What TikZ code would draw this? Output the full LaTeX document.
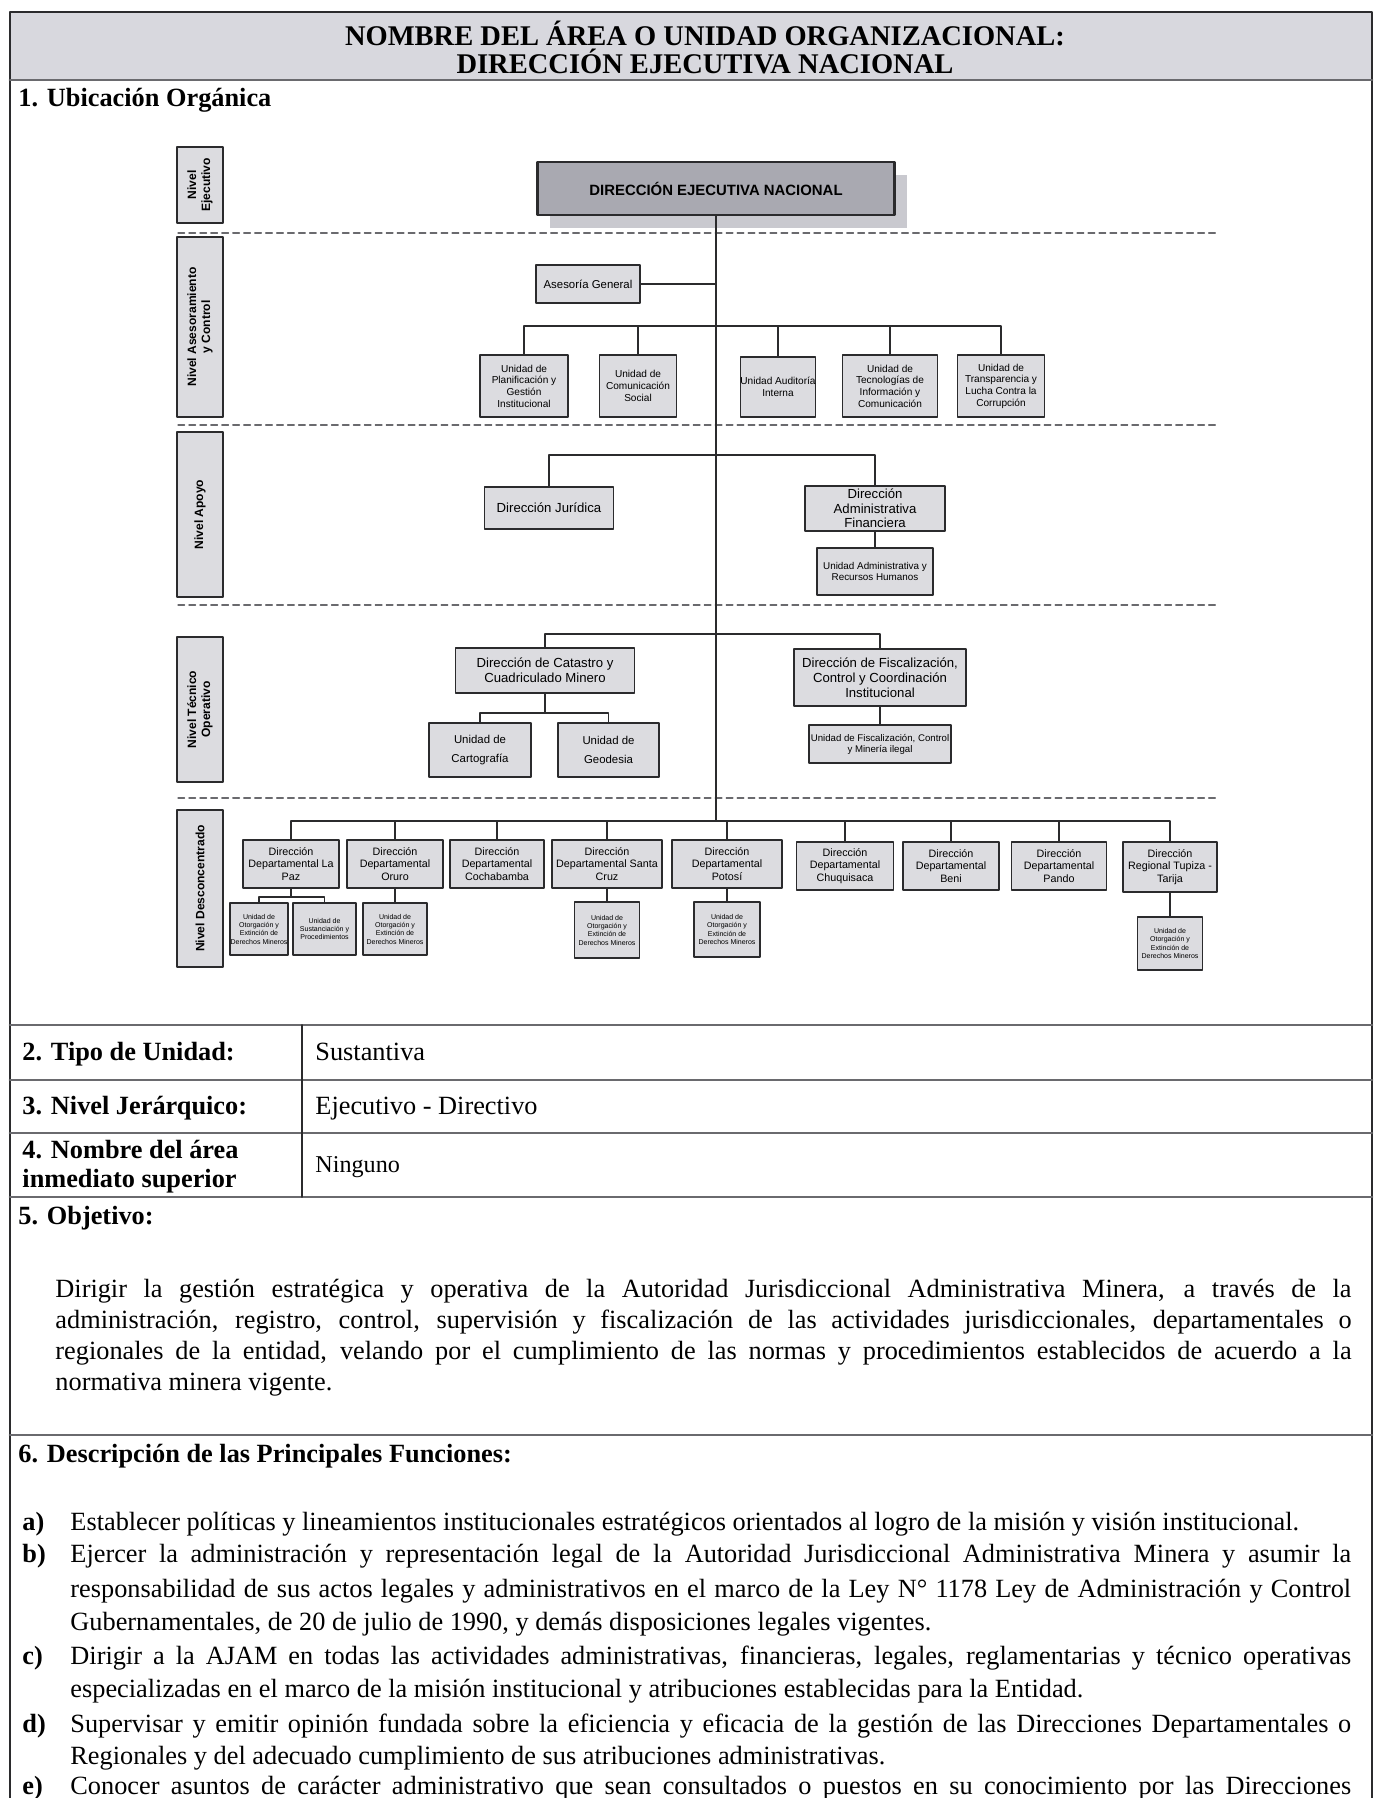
\documentclass[tikz,border=0pt]{standalone}
\usepackage{fontspec}
\setmainfont{Liberation Serif}
\newfontfamily\chartfont{Liberation Sans}
\usetikzlibrary{shadows}
\definecolor{bandgray}{HTML}{D8D8DE}
\definecolor{boxgray}{HTML}{DCDCE0}
\definecolor{dengray}{HTML}{A9A9B1}
\definecolor{shadowgray}{HTML}{C9C9CF}
\definecolor{rulegray}{HTML}{6A6A6E}
\definecolor{inkgray}{HTML}{2B2B2D}
\def\pxu{0.456pt}
\newdimen\parw \parw=591pt
\newdimen\itemw \itemw=584pt

\begin{document}
\begin{tikzpicture}[x=0.456pt, y=-0.456pt, line join=round, line cap=round,
  box/.style={draw=inkgray, fill=boxgray, line width=0.7pt, align=center, inner sep=0pt,
    font=\chartfont\fontsize{4.6}{5.3}\selectfont},
  apobox/.style={box, font=\chartfont\fontsize{6}{6.7}\selectfont},
  tecbox/.style={box, font=\chartfont\fontsize{6}{6.8}\selectfont},
  dept/.style={box, font=\chartfont\fontsize{4.9}{5.7}\selectfont},
  subu/.style={box, line width=0.6pt, font=\chartfont\fontsize{3.2}{3.8}\selectfont},
  lvl/.style={box, rotate=90, font=\chartfont\bfseries\fontsize{5.5}{6.4}\selectfont},
  wh/.style 2 args={minimum width=#1*\pxu, minimum height=#2*\pxu},
  link/.style={draw=inkgray, line width=0.9pt},
  level/.style={draw=rulegray, line width=0.6pt, dash pattern=on 3pt off 2pt},
  rule/.style={draw=rulegray, line width=1.3pt},
  txt/.style={inner sep=0pt, anchor=base west, font=\fontsize{12}{14}\selectfont},
  hd/.style={inner sep=0pt, anchor=base west, font=\bfseries\fontsize{12}{14}\selectfont}]
\useasboundingbox (0,0) rectangle (1380,1798);

% page frame and title band
\fill[bandgray] (10,12) rectangle (1372,80);
\draw[draw=inkgray, line width=0.7pt] (10,1798) -- (10,12) -- (1372,12) -- (1372,1798);
\draw[rule] (10,80) -- (1372,80);
\node[font=\bfseries\fontsize{13}{15}\selectfont] (title1) at (705,33) {NOMBRE DEL ÁREA O UNIDAD ORGANIZACIONAL:};
\node[font=\bfseries\fontsize{13}{15}\selectfont] (title2) at (705,61) {DIRECCIÓN EJECUTIVA NACIONAL};
\node[hd] (sec1) at (18,107) {1. Ubicación Orgánica};

% levels
\node[lvl, wh={76}{46}] (eje) at (200,185) {Nivel\\Ejecutivo};
\node[lvl, wh={180}{46}] (ase) at (200,327) {Nivel Asesoramiento\\y Control};
\node[lvl, wh={165}{46}] (apo) at (200,514.5) {Nivel Apoyo};
\node[lvl, wh={145}{46}] (tec) at (200,709.5) {Nivel Técnico\\Operativo};
\node[lvl, wh={157}{46}] (des) at (200,888.5) {Nivel Desconcentrado};
\foreach \y in {233,425,605,798} \draw[level] (178,\y) -- (1216,\y);

% executive
\node[box, wh={357}{53}, fill=dengray, line width=1.3pt,
  font=\chartfont\bfseries\fontsize{6.8}{8}\selectfont,
  drop shadow={shadow xshift=5.5pt, shadow yshift=-6pt, fill=shadowgray, opacity=1}]
  (den) at (716,188.5) {DIRECCIÓN EJECUTIVA NACIONAL};
\coordinate (asebus) at (716,326);
\coordinate (apobus) at (716,455);
\coordinate (tecbus) at (716,634);
\coordinate (desbus) at (716,821);

% asesoramiento y control
\node[box, wh={104}{38}, font=\chartfont\fontsize{5.2}{6}\selectfont] (ag) at (588,284) {Asesoría General};
\node[box, wh={88}{62}] (plan) at (524,386) {Unidad de\\Planificación y\\Gestión\\Institucional};
\node[box, wh={77}{62}] (comu) at (638,386) {Unidad de\\Comunicación\\Social};
\node[box, wh={74}{60}] (audi) at (778,387) {Unidad Auditoría\\Interna};
\node[box, wh={95}{62}] (tic) at (890,386) {Unidad de\\Tecnologías de\\Información y\\Comunicación};
\node[box, wh={87}{62}] (transp) at (1001,386) {Unidad de\\Transparencia y\\Lucha Contra la\\Corrupción};

% apoyo
\node[apobox, wh={129}{42}] (jur) at (549,508) {Dirección Jurídica};
\node[apobox, wh={140}{45}] (daf) at (875,508.5) {Dirección\\Administrativa\\Financiera};
\node[box, wh={116}{47}, font=\chartfont\fontsize{4.5}{5.2}\selectfont] (rrhh) at (875,571.5) {Unidad Administrativa y\\Recursos Humanos};

% tecnico operativo
\node[tecbox, wh={179}{45}] (cat) at (545,670.5) {Dirección de Catastro y\\Cuadriculado Minero};
\node[box, wh={102}{54}, font=\chartfont\fontsize{5.2}{9}\selectfont] (carto) at (480,750) {Unidad de\\Cartografía};
\node[box, wh={101}{54}, font=\chartfont\fontsize{5.2}{9}\selectfont] (geod) at (608.5,750) {Unidad de\\Geodesia};
\node[tecbox, wh={172}{57}] (fisc) at (880,677.5) {Dirección de Fiscalización,\\Control y Coordinación\\Institucional};
\node[box, wh={142}{38}, font=\chartfont\fontsize{4.4}{5}\selectfont] (fiscu) at (880,744) {Unidad de Fiscalización, Control\\y Minería ilegal};
\coordinate (catbus) at (545,713);

% desconcentrado
\node[dept, wh={96}{48}] (lapaz) at (291,864) {Dirección\\Departamental La\\Paz};
\node[dept, wh={96}{48}] (oruro) at (395,864) {Dirección\\Departamental\\Oruro};
\node[dept, wh={94}{48}] (cbba) at (497,864) {Dirección\\Departamental\\Cochabamba};
\node[dept, wh={110}{48}] (scz) at (607,864) {Dirección\\Departamental Santa\\Cruz};
\node[dept, wh={110}{48}] (potosi) at (727,864) {Dirección\\Departamental\\Potosí};
\node[dept, wh={97}{48}] (chuq) at (845,866) {Dirección\\Departamental\\Chuquisaca};
\node[dept, wh={96}{48}] (beni) at (951,866) {Dirección\\Departamental\\Beni};
\node[dept, wh={95}{48}] (pando) at (1059,866) {Dirección\\Departamental\\Pando};
\node[dept, wh={94}{50}] (tarija) at (1170,867) {Dirección\\Regional Tupiza -\\Tarija};
\node[subu, wh={58}{52}] (lpotor) at (259,929) {Unidad de\\Otorgación y\\Extinción de\\Derechos Mineros};
\node[subu, wh={63}{52}] (lpsust) at (324.5,929) {Unidad de\\Sustanciación y\\Procedimientos};
\node[subu, wh={64}{52}] (oruotor) at (395,929) {Unidad de\\Otorgación y\\Extinción de\\Derechos Mineros};
\node[subu, wh={65}{56}] (sczotor) at (607,930) {Unidad de\\Otorgación y\\Extinción de\\Derechos Mineros};
\node[subu, wh={66}{55}] (ptsotor) at (727,929.5) {Unidad de\\Otorgación y\\Extinción de\\Derechos Mineros};
\node[subu, wh={65}{53}] (tarotor) at (1170,943.5) {Unidad de\\Otorgación y\\Extinción de\\Derechos Mineros};
\coordinate (lpbus) at (291,897);

% connectors
\draw[link] (den.south) -- (desbus);
\draw[link] (ag.east) -- (ag.east -| den.south);
\foreach \n in {plan,comu,audi,tic,transp} \draw[link] (\n.north) |- (asebus);
\foreach \n in {jur,daf} \draw[link] (\n.north) |- (apobus);
\draw[link] (daf) -- (rrhh);
\foreach \n in {cat,fisc} \draw[link] (\n.north) |- (tecbus);
\draw[link] (cat.south) -- (catbus);
\foreach \n in {carto,geod} \draw[link] (\n.north) |- (catbus);
\draw[link] (fisc) -- (fiscu);
\foreach \n in {lapaz,oruro,cbba,scz,potosi,chuq,beni,pando,tarija} \draw[link] (\n.north) |- (desbus);
\draw[link] (lapaz.south) -- (lpbus);
\foreach \n in {lpotor,lpsust} \draw[link] (\n.north) |- (lpbus);
\draw[link] (oruro) -- (oruotor);
\draw[link] (scz) -- (sczotor);
\draw[link] (potosi) -- (ptsotor);
\draw[link] (tarija) -- (tarotor);

% table
\foreach \y in {1025,1080,1133,1197,1435} \draw[rule] (10,\y) -- (1372,\y);
\draw[draw=inkgray, line width=0.7pt] (302,1025) -- (302,1197);
\node[hd] (tipo) at (22,1060) {2. Tipo de Unidad:};
\node[txt] (tipov) at (315,1060) {Sustantiva};
\node[hd] (nivel) at (22,1114) {3. Nivel Jerárquico:};
\node[txt] (nivelv) at (315,1114) {Ejecutivo - Directivo};
\node[hd, anchor=west, align=left, font=\bfseries\fontsize{12}{13.3}\selectfont] (sup) at (22,1167) {4. Nombre del área\\inmediato superior};
\node[txt, anchor=west, font=\fontsize{11}{13}\selectfont] (supv) at (315,1167) {Ninguno};
\node[hd] (sec5) at (18,1224) {5. Objetivo:};

% objetivo
\node[txt] (obj1) at (55,1297) {\makebox[\parw][s]{Dirigir la gestión estratégica y operativa de la Autoridad Jurisdiccional Administrativa Minera, a través de la}};
\node[txt] (obj2) at (55,1328) {\makebox[\parw][s]{administración, registro, control, supervisión y fiscalización de las actividades jurisdiccionales, departamentales o}};
\node[txt] (obj3) at (55,1359) {\makebox[\parw][s]{regionales de la entidad, velando por el cumplimiento de las normas y procedimientos establecidos de acuerdo a la}};
\node[txt] (obj4) at (55,1390) {normativa minera vigente.};

% funciones
\node[hd] (sec6) at (18,1462) {6. Descripción de las Principales Funciones:};
\node[hd] (la) at (22,1530) {a)};
\node[txt] (fa1) at (70,1530) {Establecer políticas y lineamientos institucionales estratégicos orientados al logro de la misión y visión institucional.};
\node[hd] (lb) at (22,1562) {b)};
\node[txt] (fb1) at (70,1562) {\makebox[\itemw][s]{Ejercer la administración y representación legal de la Autoridad Jurisdiccional Administrativa Minera y asumir la}};
\node[txt] (fb2) at (70,1597) {\makebox[\itemw][s]{responsabilidad de sus actos legales y administrativos en el marco de la Ley N° 1178 Ley de Administración y Control}};
\node[txt] (fb3) at (70,1630) {Gubernamentales, de 20 de julio de 1990, y demás disposiciones legales vigentes.};
\node[hd] (lc) at (22,1664) {c)};
\node[txt] (fc1) at (70,1664) {\makebox[\itemw][s]{Dirigir a la AJAM en todas las actividades administrativas, financieras, legales, reglamentarias y técnico operativas}};
\node[txt] (fc2) at (70,1697) {especializadas en el marco de la misión institucional y atribuciones establecidas para la Entidad.};
\node[hd] (ld) at (22,1732) {d)};
\node[txt] (fd1) at (70,1732) {\makebox[\itemw][s]{Supervisar y emitir opinión fundada sobre la eficiencia y eficacia de la gestión de las Direcciones Departamentales o}};
\node[txt] (fd2) at (70,1764) {Regionales y del adecuado cumplimiento de sus atribuciones administrativas.};
\node[hd] (le) at (22,1794) {e)};
\node[txt] (fe1) at (70,1794) {\makebox[\itemw][s]{Conocer asuntos de carácter administrativo que sean consultados o puestos en su conocimiento por las Direcciones}};
\end{tikzpicture}
\end{document}
